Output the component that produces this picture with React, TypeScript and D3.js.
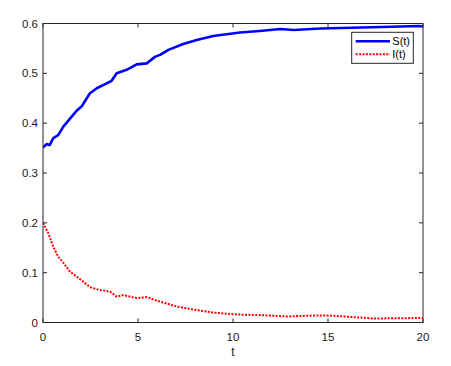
import React from "react";
import * as d3 from "d3";

const sT = [0, 0.19, 0.35, 0.54, 0.8, 1.07, 1.51, 1.77, 2.04, 2.47, 2.83, 3.35, 3.61, 3.88, 4.4, 4.93, 5.46, 5.89, 6.16, 6.6, 7.38, 8.09, 8.96, 10.37, 11.4, 12.5, 13.2, 14.6, 16.8, 19.8, 20];
const sV = [0.351, 0.358, 0.356, 0.37, 0.376, 0.393, 0.413, 0.425, 0.434, 0.46, 0.47, 0.48, 0.485, 0.5, 0.507, 0.518, 0.52, 0.533, 0.537, 0.547, 0.559, 0.567, 0.575, 0.582, 0.585, 0.589, 0.587, 0.59, 0.592, 0.595, 0.594];

const iT = [0, 0.28, 0.54, 0.8, 1.07, 1.42, 1.77, 2.12, 2.47, 3, 3.53, 3.88, 4.23, 4.93, 5.46, 5.98, 6.6, 7.04, 7.91, 8.96, 10.2, 11.4, 12.9, 14.2, 15.1, 17.4, 19.8, 20];
const iV = [0.2, 0.179, 0.152, 0.132, 0.12, 0.102, 0.092, 0.082, 0.071, 0.065, 0.062, 0.052, 0.055, 0.049, 0.051, 0.044, 0.037, 0.032, 0.026, 0.02, 0.016, 0.015, 0.012, 0.014, 0.014, 0.008, 0.009, 0.009];

const xTicks = [0, 5, 10, 15, 20];
const yTicks = [0, 0.1, 0.2, 0.3, 0.4, 0.5, 0.6];
const legendLabels = ["S(t)", "I(t)"];

export default function App() {
  const W = 451, H = 366;
  const L = 43, R = 423, T = 23.5, B = 322.5;
  const x = d3.scaleLinear().domain([0, 20]).range([L, R]);
  const y = d3.scaleLinear().domain([0, 0.6]).range([B, T]);
  const line = d3.line<[number, number]>().x(d => x(d[0])).y(d => y(d[1]));
  const sPath = line(sT.map((t, i) => [t, sV[i]]))!;
  const iPath = line(iT.map((t, i) => [t, iV[i]]))!;
  const axisColor = "#262626";
  const font = "'Liberation Sans', Arial, sans-serif";
  return (
    <svg width={W} height={H} style={{ position: "absolute", left: 0, top: 0, background: "#fff" }}>
      <rect x={0} y={0} width={W} height={H} fill="#fff" />
      <defs>
        <clipPath id="clip"><rect x={L} y={T - 2} width={R - L} height={B - T + 2} /></clipPath>
      </defs>
      <g clipPath="url(#clip)">
        <path d={sPath} fill="none" stroke="#0000ff" strokeWidth={2.6} strokeLinejoin="round" />
        <path d={iPath} fill="none" stroke="#ff0000" strokeWidth={2} strokeDasharray="2,1.4" />
      </g>
      <rect x={L} y={T} width={R - L} height={B - T} fill="none" stroke={axisColor} strokeWidth={1} />
      {xTicks.map(t => (
        <g key={"x" + t}>
          <line x1={x(t)} x2={x(t)} y1={B} y2={B - 4} stroke={axisColor} />
          <line x1={x(t)} x2={x(t)} y1={T} y2={T + 4} stroke={axisColor} />
          <text x={x(t)} y={B + 18} textAnchor="middle" fontSize={11.5} fontFamily={font} fill="#1a1a1a">{t}</text>
        </g>
      ))}
      {yTicks.map(v => (
        <g key={"y" + v}>
          <line x1={L} x2={L + 4} y1={y(v)} y2={y(v)} stroke={axisColor} />
          <line x1={R} x2={R - 4} y1={y(v)} y2={y(v)} stroke={axisColor} />
          <text x={L - 5} y={y(v) + 4} textAnchor="end" fontSize={11.5} fontFamily={font} fill="#1a1a1a">{v === 0 ? "0" : v.toFixed(1)}</text>
        </g>
      ))}
      <text x={(L + R) / 2} y={356} textAnchor="middle" fontSize={12} fontFamily={font} fill="#1a1a1a">t</text>
      <g>
        <rect x={351.7} y={32.3} width={61.6} height={31} fill="#fff" stroke={axisColor} strokeWidth={1} />
        <line x1={355.7} x2={390} y1={41.3} y2={41.3} stroke="#0000ff" strokeWidth={2.6} />
        <line x1={355.7} x2={390} y1={54.3} y2={54.3} stroke="#ff0000" strokeWidth={2} strokeDasharray="2,1.4" />
        <text x={392.3} y={45.3} fontSize={11} fontFamily={font} fill="#000">{legendLabels[0]}</text>
        <text x={392.3} y={58.3} fontSize={11} fontFamily={font} fill="#000">{legendLabels[1]}</text>
      </g>
    </svg>
  );
}
